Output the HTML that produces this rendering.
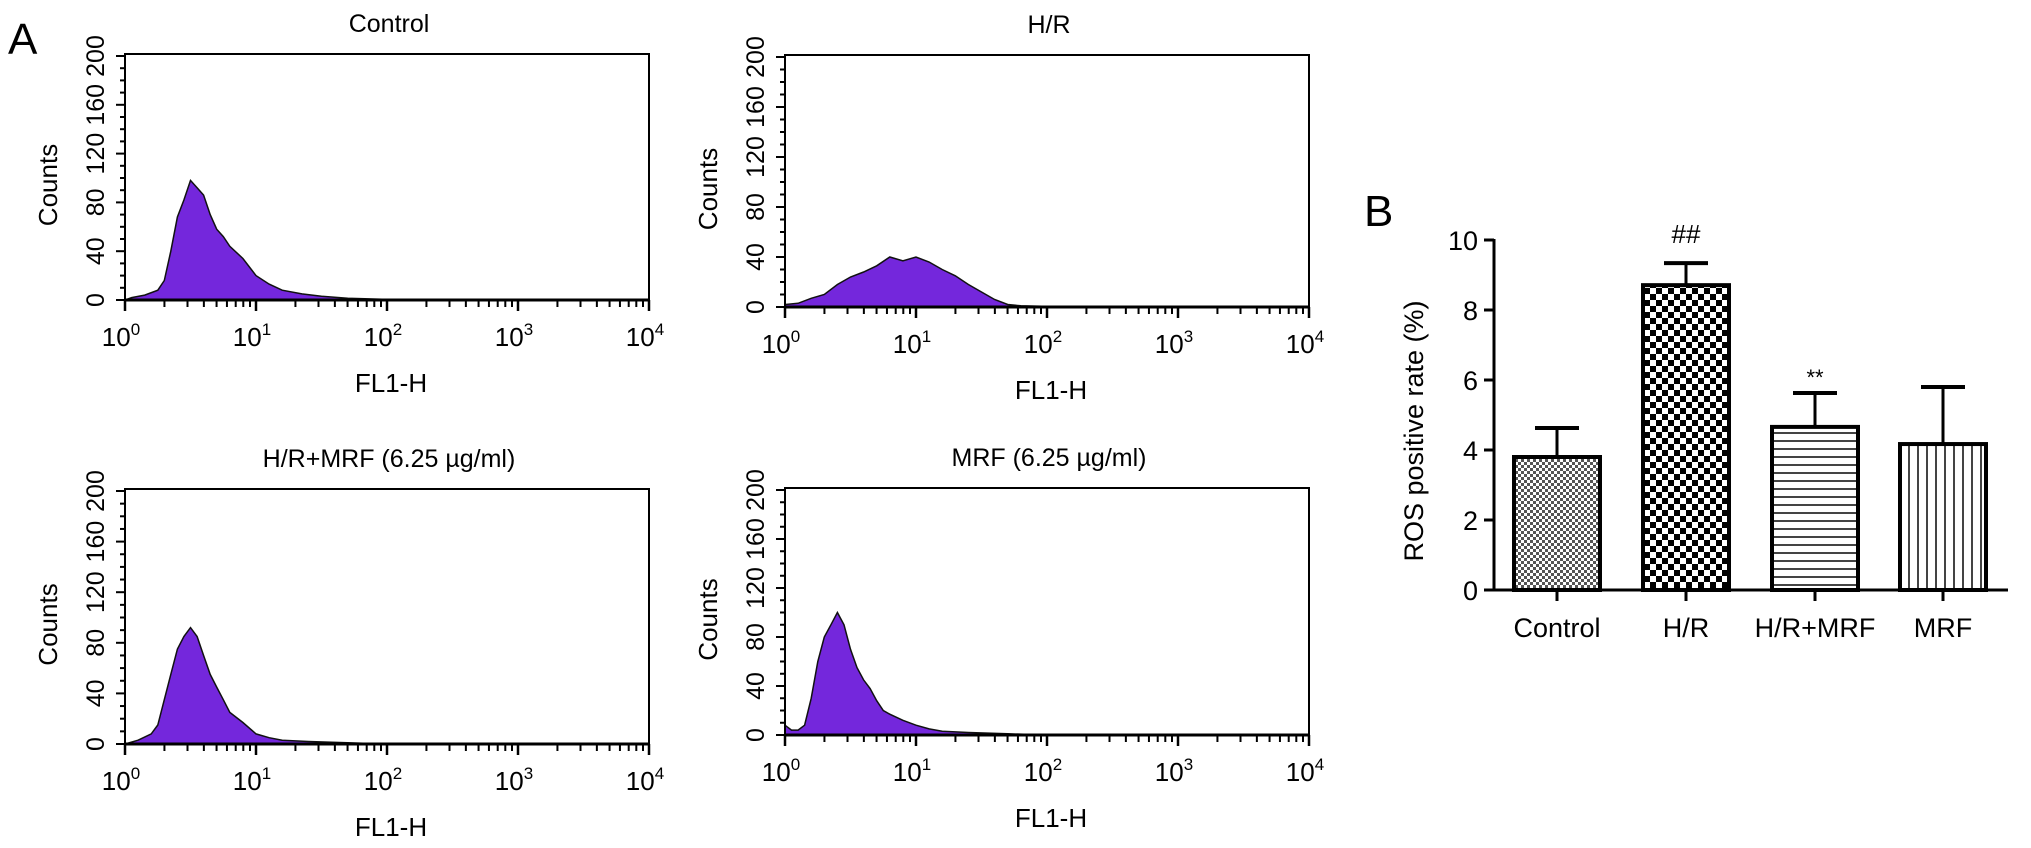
<!DOCTYPE html>
<html><head><meta charset="utf-8"><style>
html,body{margin:0;padding:0;background:#fff;}
svg{display:block;font-family:"Liberation Sans",Arial,sans-serif;}
</style></head><body>
<svg id="fig" width="2031" height="848" viewBox="0 0 2031 848" xmlns="http://www.w3.org/2000/svg">
<defs>
<pattern id="patCtrl" width="6" height="6" patternUnits="userSpaceOnUse"><rect width="6" height="6" fill="#fff"/><rect width="3" height="3" fill="#555"/><rect x="3" y="3" width="3" height="3" fill="#555"/></pattern>
<pattern id="patHR" width="12" height="12" patternUnits="userSpaceOnUse"><rect width="12" height="12" fill="#fff"/><rect width="6" height="6" fill="#000"/><rect x="6" y="6" width="6" height="6" fill="#000"/></pattern>
<pattern id="patHRM" width="8" height="8" patternUnits="userSpaceOnUse"><rect width="8" height="8" fill="#fff"/><rect y="0" width="8" height="2" fill="#444"/></pattern>
<pattern id="patMRF" width="9" height="9" patternUnits="userSpaceOnUse"><rect width="9" height="9" fill="#fff"/><rect x="0" width="2" height="9" fill="#444"/></pattern>
</defs>
<text x="8" y="54" font-size="44">A</text>
<text x="1364" y="226" font-size="44">B</text>
<g id="hists"></g>
<g id="bars"></g>
</svg>
<script>
// Histogram data: log10(FL1-H) positions and counts
const ctrlLog = [0,0.05,0.15,0.25,0.3,0.35,0.4,0.45,0.5,0.55,0.6,0.65,0.7,0.75,0.8,0.9,1.0,1.1,1.2,1.35,1.5,1.7,2.0,2.5,4];
const ctrlCounts = [0,2,4,8,16,40,68,82,98,92,86,70,58,52,44,34,20,13,8,5,3,1.5,0.5,0,0];
const hrLog = [0,0.1,0.2,0.3,0.4,0.5,0.6,0.7,0.8,0.9,1.0,1.1,1.2,1.3,1.4,1.5,1.6,1.7,1.8,2.0,2.2,4];
const hrCounts = [2,3,7,10,18,24,28,33,40,37,40,36,30,25,18,12,6,2,1,0.5,0,0];
const hrmLog = [0,0.1,0.2,0.25,0.3,0.35,0.4,0.45,0.5,0.55,0.6,0.65,0.7,0.75,0.8,0.9,1.0,1.1,1.2,1.4,1.7,2.0,4];
const hrmCounts = [0,3,8,15,35,55,75,85,92,85,70,55,45,35,25,17,8,5,3,2,1,0,0];
const mrfLog = [0,0.05,0.1,0.15,0.2,0.25,0.3,0.35,0.4,0.45,0.5,0.55,0.6,0.65,0.7,0.75,0.8,0.9,1.0,1.1,1.2,1.4,1.7,2.0,4];
const mrfCounts = [8,4,4,8,30,60,80,90,100,90,70,55,45,38,28,20,17,12,8,5,3,2,1,0,0];
const countTicks = [0,40,80,120,160,200];
const decadeTicks = [0,1,2,3,4];

// Bar chart data
const barCats = ["Control","H/R","H/R+MRF","MRF"];
const barVals = [3.8,8.71,4.66,4.17];
const barErr = [0.83,0.63,0.97,1.63];
const barMarks = ["","##","**",""];
const barTicks = [0,2,4,6,8,10];

const NS="http://www.w3.org/2000/svg";
function mk(tag,attrs,parent,txt){const e=document.createElementNS(NS,tag);for(const k in attrs)e.setAttribute(k,attrs[k]);if(txt!==undefined)e.textContent=txt;parent.appendChild(e);return e;}

const panels=[
 {name:"control",title:"Control",L:125,T:54,B:300,lx:ctrlLog,cy:ctrlCounts},
 {name:"hr",title:"H/R",L:785,T:55,B:307,lx:hrLog,cy:hrCounts},
 {name:"hr-mrf",title:"H/R+MRF (6.25 \u00b5g/ml)",L:125,T:489,B:744,lx:hrmLog,cy:hrmCounts},
 {name:"mrf",title:"MRF (6.25 \u00b5g/ml)",L:785,T:488,B:735,lx:mrfLog,cy:mrfCounts}
];
const H=document.getElementById('hists');
panels.forEach(p=>{
 const W=524, dec=W/4;
 const xs=v=>p.L+v*dec;
 const ys=c=>p.B-(c/200)*(p.B-p.T-2);
 const g=mk('g',{},H);
 
 
 let d="M"+xs(0)+","+p.B;
 p.lx.forEach((v,i)=>{d+=" L"+xs(v).toFixed(1)+","+ys(p.cy[i]).toFixed(1);});
 d+=" L"+xs(4)+","+p.B+" Z";
 const area=mk('path',{d:d,fill:"#7427dc",stroke:"#111","stroke-width":"1.5"},g);
 
 
 const box=mk('rect',{x:p.L,y:p.T,width:W,height:p.B-p.T,fill:"none",stroke:"#000","stroke-width":"2"},g);
 
 
 mk('line',{x1:p.L,y1:p.B,x2:p.L+W,y2:p.B,stroke:"#000","stroke-width":"3"},g);
 // x ticks
 for(let k=0;k<4;k++){for(let m=2;m<=9;m++){const x=xs(k+Math.log10(m));mk('line',{x1:x,y1:p.B,x2:x,y2:p.B+7,stroke:"#000","stroke-width":"2"},g);}}
 decadeTicks.forEach(k=>{const x=xs(k);mk('line',{x1:x,y1:p.B,x2:x,y2:p.B+11,stroke:"#000","stroke-width":"2.5"},g);
  const t=mk('text',{x:x-4,y:p.B+46,"font-size":"26","text-anchor":"middle"},g,"10");
  
  
  mk('tspan',{dy:"-11","font-size":"17"},t,String(k));});
 // y ticks
 for(let c=0;c<=200;c+=10){const y=ys(c);const major=c%40===0;mk('line',{x1:p.L-(major?9:5),y1:y,x2:p.L,y2:y,stroke:"#000","stroke-width":"2"},g);}
 countTicks.forEach(c=>{const y=ys(c);const t=mk('text',{x:0,y:0,"font-size":"25","text-anchor":"middle",transform:`translate(${p.L-21},${y}) rotate(-90)`},g,String(c));
  
  });
 const yl=mk('text',{x:0,y:0,"font-size":"26","text-anchor":"middle",transform:`translate(${p.L-68},${(p.T+p.B)/2+8}) rotate(-90)`},g,"Counts");
 
 
 const xl=mk('text',{x:p.L+W/2+4,y:p.B+92,"font-size":"26","text-anchor":"middle"},g,"FL1-H");
 
 
 const tt=mk('text',{x:p.L+W/2+2,y:p.T-22,"font-size":"25","text-anchor":"middle"},g,p.title);
 
 
});

// Bar chart
const G=document.getElementById('bars');
const AX=1494, B0=590, PPU=35;
const yb=v=>B0-v*PPU;
const centers=[1557,1686,1815,1943], bw=86;
const pats=["url(#patCtrl)","url(#patHR)","url(#patHRM)","url(#patMRF)"];
mk('line',{x1:AX,y1:yb(10)-1,x2:AX,y2:B0,stroke:"#000","stroke-width":"3"},G);
mk('line',{x1:AX,y1:B0,x2:2008,y2:B0,stroke:"#000","stroke-width":"3"},G);
barTicks.forEach(v=>{mk('line',{x1:AX-10,y1:yb(v),x2:AX,y2:yb(v),stroke:"#000","stroke-width":"3"},G);
 const t=mk('text',{x:AX-16,y:yb(v)+10,"font-size":"27","text-anchor":"end"},G,String(v));
 
 });
const yt=mk('text',{x:0,y:0,"font-size":"27","text-anchor":"middle",transform:`translate(1423,${(yb(10)+B0)/2+16}) rotate(-90)`},G,"ROS positive rate (%)");


barCats.forEach((c,i)=>{
 const cx=centers[i], top=yb(barVals[i]), et=yb(barVals[i]+barErr[i]);
 mk('line',{x1:cx,y1:top,x2:cx,y2:et,stroke:"#000","stroke-width":"3"},G);
 mk('line',{x1:cx-22,y1:et,x2:cx+22,y2:et,stroke:"#000","stroke-width":"4"},G);
 const r=mk('rect',{x:cx-bw/2,y:top,width:bw,height:B0-top,fill:pats[i],stroke:"#000","stroke-width":"4"},G);
 
 
 mk('line',{x1:cx,y1:B0,x2:cx,y2:B0+11,stroke:"#000","stroke-width":"3"},G);
 const t=mk('text',{x:cx,y:637,"font-size":"27","text-anchor":"middle"},G,c);
 
 
 if(barMarks[i]){const s=mk('text',{x:cx,y:et-(barMarks[i]==="##"?20:8),"font-size":barMarks[i]==="##"?"26":"22","text-anchor":"middle"},G,barMarks[i]);
  
  }
});
</script>
</body></html>
